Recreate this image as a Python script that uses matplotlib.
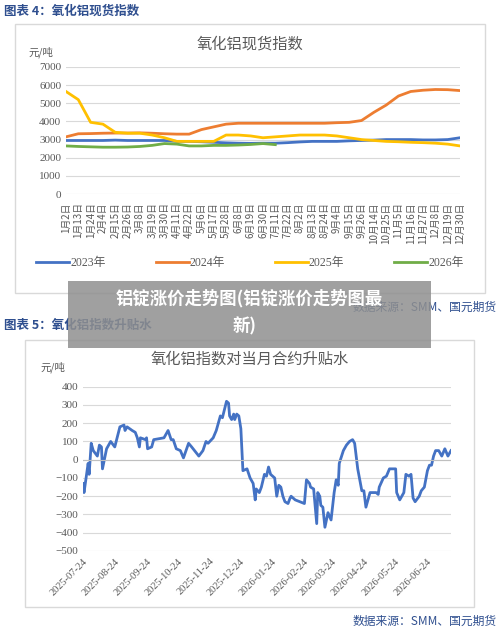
import matplotlib
matplotlib.use("Agg")
import matplotlib.pyplot as plt
from matplotlib.patches import Rectangle
import pandas as pd

CJK = ['Noto Sans CJK SC', 'DejaVu Sans']
SERIF = ['Liberation Serif', 'Noto Sans CJK SC']
plt.rcParams['font.family'] = CJK

# ---------- Chart 1 data ----------
dates1 = ["1月2日","1月13日","1月24日","2月4日","2月15日","2月26日","3月8日","3月19日","3月30日",
          "4月11日","4月22日","5月6日","5月17日","5月28日","6月8日","6月19日","6月30日","7月11日",
          "7月22日","8月2日","8月13日","8月24日","9月4日","9月15日","9月26日","10月14日","10月25日",
          "11月5日","11月16日","11月27日","12月8日","12月19日","12月30日"]
y2023 = [2950,2950,2950,2950,2970,2950,2950,2950,2950,2900,2900,2880,2850,2820,2800,2790,2800,2800,
         2830,2870,2900,2900,2900,2930,2950,2970,3000,3000,3000,2980,2980,3000,3100]
y2024 = [3150,3320,3330,3350,3360,3360,3370,3350,3320,3300,3300,3550,3700,3850,3900,3900,3900,3900,
         3900,3900,3900,3900,3930,3950,4050,4500,4900,5400,5650,5720,5760,5750,5700]
y2025 = [5650,5200,3950,3850,3400,3350,3350,3250,3100,2900,2900,2900,2900,3250,3250,3200,3100,3150,
         3200,3250,3250,3250,3200,3100,3000,2950,2900,2880,2850,2830,2800,2750,2650]
y2026 = [2650,2620,2600,2580,2580,2590,2620,2680,2780,2750,2650,2650,2680,2680,2700,2730,2780,2720]
series1 = [("2023年", y2023, "#4472C4"), ("2024年", y2024, "#ED7D31"),
           ("2025年", y2025, "#FFC000"), ("2026年", y2026, "#70AD47")]

# ---------- Chart 2 data ----------
start2 = "2025-07-24"
days2 = [0,1,5,6,8,10,14,16,18,19,23,27,31,36,40,41,43,48,51,53,55,56,61,62,63,67,69,79,83,86,88,91,
         95,98,103,106,113,117,120,122,127,130,134,136,140,142,143,145,147,148,150,152,154,156,160,
         163,166,168,169,172,174,177,179,181,183,187,189,191,193,195,197,200,202,203,207,216,218,221,
         222,225,228,229,231,232,234,236,239,242,245,247,249,250,254,257,260,263,265,268,272,274,276,
         280,286,288,289,293,296,299,302,305,306,309,313,315,318,320,322,324,328,330,333,336,338,340,
         342,344,347,350,353,356,359]
vals2 = [-130,-180,-20,-80,90,50,20,80,70,-50,60,100,70,180,190,160,180,160,150,120,70,120,110,120,
         60,70,110,120,160,110,110,60,50,10,90,70,20,50,100,90,120,160,240,230,320,310,240,220,250,
         220,250,240,170,-60,-50,-100,-130,-220,-160,-180,-150,-80,-90,-40,-80,-100,-200,-140,-150,
         -200,-230,-240,-210,-200,-220,-240,-110,-130,-150,-160,-350,-180,-200,-250,-260,-370,-290,
         -330,-180,-110,-140,-20,50,80,100,110,90,-50,-170,-170,-260,-180,-180,-190,-150,-100,-90,
         -50,-50,-50,-180,-220,-180,-80,-90,-80,-210,-230,-200,-170,-150,-60,-30,-30,20,50,50,20,60,
         20,50]
ticks2 = ["2025-07-24","2025-08-24","2025-09-24","2025-10-24","2025-11-24","2025-12-24",
          "2026-01-24","2026-02-24","2026-03-24","2026-04-24","2026-05-24","2026-06-24"]

W, H = 500, 630
fig = plt.figure(figsize=(5, 6.3), dpi=100)
fig.patch.set_facecolor("white")

def fx(px): return px / W
def fy(py): return 1 - py / H

HEAD = "#2F4F8F"
GRID = "#D9D9D9"
TXT = "#595959"

fig.patches.append(Rectangle((fx(15), fy(293)), fx(470), 269 / H, transform=fig.transFigure,
                             fill=False, edgecolor="#D9D9D9", lw=1))
fig.patches.append(Rectangle((fx(25), fy(607)), fx(449), 267 / H, transform=fig.transFigure,
                             fill=False, edgecolor="#D9D9D9", lw=1))

fig.text(fx(4), fy(11), "图表 4：氧化铝现货指数", color=HEAD, fontsize=9, fontweight="bold", va="center")
fig.text(fx(250), fy(44), "氧化铝现货指数", color=TXT, fontsize=11, ha="center", va="center")
fig.text(fx(28), fy(52), "元/吨", color=TXT, fontsize=7.5, va="center")
fig.text(fx(497), fy(307), "数据来源：SMM、国元期货", color=HEAD, fontsize=8.5, ha="right", va="center")
fig.text(fx(4), fy(325), "图表 5：氧化铝指数升贴水", color=HEAD, fontsize=9, fontweight="bold", va="center")
fig.text(fx(250), fy(359), "氧化铝指数对当月合约升贴水", color=TXT, fontsize=11, ha="center", va="center")
fig.text(fx(40), fy(367), "元/吨", color=TXT, fontsize=7.5, va="center")
fig.text(fx(497), fy(621), "数据来源：SMM、国元期货", color=HEAD, fontsize=8.5, ha="right", va="center")

ax1 = fig.add_axes([fx(66), fy(194), 394 / W, 127 / H])
x1 = list(range(len(dates1)))
for name, ys, c in series1:
    ax1.plot(x1[:len(ys)], ys, color=c, lw=2, label=name)
ax1.set_ylim(0, 7000)
ax1.set_yticks(range(0, 7001, 1000))
ax1.set_xlim(0, len(dates1) - 1)
ax1.set_xticks(x1)
ax1.set_xticklabels(dates1, rotation=90, fontsize=7, color=TXT)
ax1.tick_params(axis="y", labelsize=8, colors=TXT, length=0)
ax1.tick_params(axis="x", length=0, pad=6)
for t in ax1.get_yticklabels():
    t.set_family(SERIF)
ax1.grid(axis="y", color=GRID, lw=0.8)
for s in ax1.spines.values():
    s.set_visible(False)
ax1.set_axisbelow(True)
leg = fig.legend(*ax1.get_legend_handles_labels(), loc="center", bbox_to_anchor=(0.5, fy(263)),
                 ncol=4, frameon=False, handlelength=2.8, columnspacing=4.2, handletextpad=0.1,
                 prop={"family": SERIF, "size": 8.5})
for t in leg.get_texts():
    t.set_color(TXT)

ax2 = fig.add_axes([fx(83), fy(551), 368 / W, 164.3 / H])
d0 = pd.Timestamp(start2)
x2 = [d0 + pd.Timedelta(days=d) for d in days2]
ax2.plot(x2, vals2, color="#4472C4", lw=2)
ax2.set_ylim(-500, 400)
ax2.set_yticks(range(-500, 401, 100))
ax2.set_xlim(x2[0], x2[-1])
tk = pd.to_datetime(ticks2)
ax2.set_xticks(tk)
ax2.set_xticklabels(ticks2, rotation=45, ha="right", rotation_mode="anchor", fontsize=7.5,
                    color=TXT, family=SERIF)
ax2.tick_params(axis="y", labelsize=8, colors=TXT, length=0)
ax2.tick_params(axis="x", length=0, pad=4)
for t in ax2.get_yticklabels():
    t.set_family(SERIF)
ax2.grid(axis="y", color=GRID, lw=0.8)
ax2.axhline(0, color="#BFBFBF", lw=0.8)
for s in ax2.spines.values():
    s.set_visible(False)
ax2.set_axisbelow(True)

fig.patches.append(Rectangle((fx(68), fy(348)), 363 / W, 67 / H, transform=fig.transFigure,
                             facecolor="#8F8F8F", edgecolor="none", alpha=0.85, zorder=10))
fig.text(fx(249), fy(298), "铝锭涨价走势图(铝锭涨价走势图最", color="white", fontsize=12.5,
         fontweight="bold", ha="center", va="center", zorder=11)
fig.text(fx(245), fy(326), "新)", color="white", fontsize=12.5, fontweight="bold",
         ha="center", va="center", zorder=11)

fig.savefig("out.png", dpi=100)
